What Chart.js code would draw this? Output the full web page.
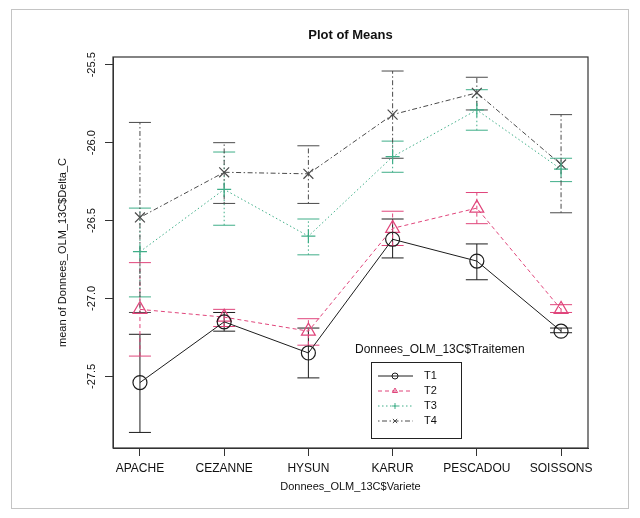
<!DOCTYPE html>
<html><head><meta charset="utf-8">
<script src="https://cdn.jsdelivr.net/npm/chart.js@4/dist/chart.umd.min.js"></script>
<style>html,body{margin:0;padding:0;background:#fff}canvas{display:block}</style>
</head><body>
<canvas id="c" width="640" height="518"></canvas>
<script>
const categories = ['APACHE','CEZANNE','HYSUN','KARUR','PESCADOU','SOISSONS'];
const yTickValues = [-25.5,-26.0,-26.5,-27.0,-27.5];
const yTickLabels = ['-25.5','-26.0','-26.5','-27.0','-27.5'];
const seriesNames = ['T1','T2','T3','T4'];
const t1Mean = [-27.54,-27.15,-27.35,-26.62,-26.76,-27.21];
const t1Low  = [-27.86,-27.21,-27.51,-26.74,-26.88,-27.22];
const t1High = [-27.23,-27.09,-27.19,-26.49,-26.65,-27.19];
const t2Mean = [-27.07,-27.12,-27.21,-26.55,-26.42,-27.07];
const t2Low  = [-27.37,-27.18,-27.30,-26.66,-26.52,-27.09];
const t2High = [-26.77,-27.07,-27.13,-26.44,-26.32,-27.04];
const t3Mean = [-26.70,-26.30,-26.60,-26.09,-25.79,-26.17];
const t3Low  = [-26.99,-26.53,-26.72,-26.19,-25.92,-26.25];
const t3High = [-26.42,-26.06,-26.49,-25.99,-25.66,-26.10];
const t4Mean = [-26.48,-26.19,-26.20,-25.82,-25.68,-26.14];
const t4Low  = [-27.09,-26.39,-26.39,-26.10,-25.79,-26.45];
const t4High = [-25.87,-26.00,-26.02,-25.54,-25.58,-25.82];

const titleText = 'Plot of Means';
const xTitle = 'Donnees_OLM_13C$Variete';
const yTitle = 'mean of Donnees_OLM_13C$Delta_C';
const legendTitle = 'Donnees_OLM_13C$Traitemen';

const FONT = '"Liberation Sans", Arial, sans-serif';
const colors = ['#1c1c1c','#e0457b','#3fae88','#4a4a4a'];
const dashes = [[], [4,3], [1.5,2.5], [1.5,2.5,5,2.5]];
const styles = ['circle','triangle','cross','crossRot'];
const radii = [7,8,7,7];
const means = [t1Mean,t2Mean,t3Mean,t4Mean];
const lows = [t1Low,t2Low,t3Low,t4Low];
const highs = [t1High,t2High,t3High,t4High];

const datasets = seriesNames.map((n,k)=>({
  label:n,
  data: categories.map((c,i)=>({x:i+1,y:means[k][i]})),
  errLow: lows[k], errHigh: highs[k],
  borderColor: colors[k], backgroundColor:'rgba(0,0,0,0)',
  borderWidth:1, borderDash:dashes[k],
  pointStyle:styles[k], pointRadius:radii[k], pointBorderWidth:1.2,
  pointBorderColor:colors[k], pointBackgroundColor:'rgba(0,0,0,0)',
  tension:0, fill:false
}));

const extras = {
  id:'extras',
  beforeDatasetsDraw(chart){
    const ctx=chart.ctx, xs=chart.scales.x, ys=chart.scales.y;
    chart.data.datasets.forEach((ds,k)=>{
      ctx.save();
      ctx.strokeStyle=ds.borderColor; ctx.lineWidth=1;
      ds.data.forEach((p,i)=>{
        const x=xs.getPixelForValue(p.x);
        const y1=ys.getPixelForValue(ds.errLow[i]);
        const y2=ys.getPixelForValue(ds.errHigh[i]);
        ctx.setLineDash(ds.borderDash);
        ctx.beginPath(); ctx.moveTo(x,y1); ctx.lineTo(x,y2); ctx.stroke();
        ctx.setLineDash([]);
        ctx.beginPath(); ctx.moveTo(x-11,y1); ctx.lineTo(x+11,y1);
        ctx.moveTo(x-11,y2); ctx.lineTo(x+11,y2); ctx.stroke();
      });
      ctx.restore();
    });
  },
  afterDraw(chart){
    const ctx=chart.ctx, a=chart.chartArea, ys=chart.scales.y;
    ctx.save();
    ctx.strokeStyle='#c4c4c4'; ctx.lineWidth=1;
    ctx.strokeRect(11.5,9.5,617,499);
    ctx.strokeStyle='#333'; ctx.lineWidth=1.2;
    ctx.strokeRect(a.left,a.top,a.right-a.left,a.bottom-a.top);
    ctx.fillStyle='#111';
    ctx.font='bold 13px '+FONT; ctx.textAlign='center'; ctx.textBaseline='middle';
    ctx.fillText(titleText,(a.left+a.right)/2,35);
    ctx.font='11px '+FONT;
    ctx.fillText(xTitle,(a.left+a.right)/2,487);
    ctx.save(); ctx.translate(63,(a.top+a.bottom)/2); ctx.rotate(-Math.PI/2);
    ctx.fillText(yTitle,0,0); ctx.restore();
    yTickValues.forEach((v,i)=>{
      const y=ys.getPixelForValue(v);
      ctx.save(); ctx.translate(92,y); ctx.rotate(-Math.PI/2);
      ctx.fillText(yTickLabels[i],0,0); ctx.restore();
    });
    ctx.font='12px '+FONT; ctx.textAlign='left';
    ctx.fillText(legendTitle,355,350);
    ctx.font='11px '+FONT;
    ctx.strokeStyle='#222'; ctx.lineWidth=1;
    ctx.strokeRect(371.5,362.5,90,76);
    chart.data.datasets.forEach((ds,k)=>{
      const y=376+k*15;
      ctx.strokeStyle=ds.borderColor; ctx.setLineDash(ds.borderDash);
      ctx.beginPath(); ctx.moveTo(378,y); ctx.lineTo(413,y); ctx.stroke();
      ctx.setLineDash([]);
      ctx.fillStyle='rgba(0,0,0,0)';
      Chart.helpers.drawPoint(ctx,{pointStyle:ds.pointStyle,radius:3,borderWidth:1,rotation:0},395,y);
      ctx.fillStyle='#111';
      ctx.fillText(ds.label,424,y);
    });
    ctx.restore();
  }
};

new Chart(document.getElementById('c'),{
  type:'line',
  data:{datasets},
  plugins:[extras],
  options:{
    responsive:false, devicePixelRatio:1, animation:false,
    layout:{padding:{top:57,right:52,left:0,bottom:0}},
    plugins:{legend:{display:false},title:{display:false},tooltip:{enabled:false}},
    scales:{
      x:{type:'linear',min:0.68,max:6.32,
        afterBuildTicks:s=>{s.ticks=categories.map((c,i)=>({value:i+1}));},
        afterFit:s=>{s.height=70;},
        ticks:{callback:v=>categories[Math.round(v)-1],autoSkip:false,maxRotation:0,minRotation:0,
          padding:5,color:'#111',font:{family:FONT,size:12}},
        grid:{drawOnChartArea:false,tickLength:8,color:'#333'},
        border:{color:'#333'}},
      y:{type:'linear',min:-27.96,max:-25.45,
        afterBuildTicks:s=>{s.ticks=yTickValues.map(v=>({value:v}));},
        afterFit:s=>{s.width=113;},
        ticks:{display:false},
        grid:{drawOnChartArea:false,tickLength:8,color:'#333'},
        border:{color:'#333'}}
    }
  }
});
</script>
</body></html>
